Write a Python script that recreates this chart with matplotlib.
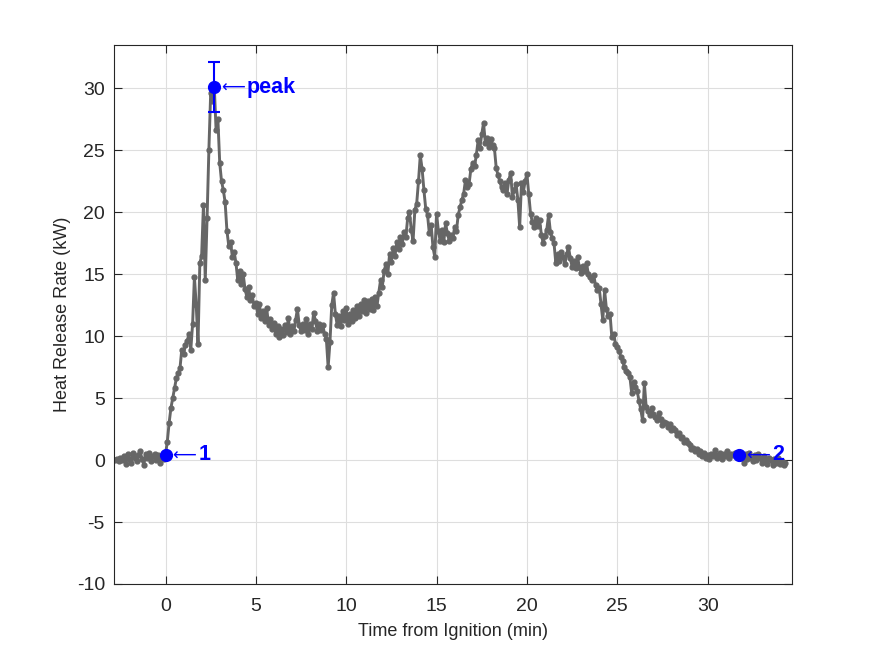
import numpy as np
import matplotlib
matplotlib.use("Agg")
import matplotlib.pyplot as plt

# heat release rate (kW), sampled every 0.1 min, split by burn phase
dt = 0.1

t_pre = -2.8
hrr_pre = [0.0, 0.1, -0.1, 0.2, 0.0, 0.3, -0.3, 0.5, 0.1, -0.2,
           0.6, 0.2, -0.1, 0.4, 0.7, 0.1, -0.4, 0.5, 0.2, 0.6,
           -0.1, 0.3, 0.5, 0.0, 0.4, -0.2, 0.3, 0.1]

t_growth = 0.0
hrr_growth = [0.45, 1.5, 3.0, 4.2, 5.0, 5.8, 6.6, 7.0, 7.4, 8.9,
              8.6, 9.3, 9.6, 10.2, 8.9, 11.0, 14.8, 12.5, 9.4, 15.9,
              16.5, 20.6, 14.5, 19.5, 25.0, 29.6, 29.0, 30.1]

t_decay = 2.8
hrr_decay = [26.6, 27.5, 24.0, 22.5, 21.8, 20.8, 18.5, 17.3, 17.6, 16.4,
             16.8, 15.9, 14.5, 15.3, 14.2, 15.0, 13.8, 13.2, 14.0, 12.9,
             13.3, 12.4, 12.7, 11.8, 12.6, 11.5, 12.0, 11.2, 12.3, 10.9,
             11.4, 10.6, 11.1, 10.2, 10.8, 9.9, 10.6, 10.1, 10.9, 10.3,
             11.5, 10.2, 10.8, 10.4, 11.3, 12.2, 10.9, 10.4, 11.0, 10.5,
             11.4, 10.2, 11.0, 10.6, 11.9, 11.2, 10.4, 11.0, 10.5, 10.9,
             10.2, 9.8, 7.5, 9.5, 12.5, 13.5, 11.8, 10.9, 11.6, 10.8,
             12.0, 11.3]

t_second = 10.0
hrr_second = [12.3, 11.0, 11.8, 11.2, 12.1, 11.5, 12.4, 11.6, 12.6, 12.0,
              12.9, 11.9, 12.8, 12.2, 13.0, 12.1, 13.2, 12.4, 13.5, 14.5,
              14.0, 15.3, 15.8, 15.0, 16.6, 16.0, 17.1, 16.5, 17.6, 17.0,
              18.0, 17.4, 18.4, 18.0, 19.5, 20.0, 18.6, 17.7, 20.2, 20.7,
              22.5, 24.6, 23.5, 21.8, 20.3, 19.8, 18.3, 19.0, 17.2, 16.4,
              19.9, 18.5, 17.7, 18.6, 17.6, 19.1, 18.3, 17.7, 18.2, 17.9,
              18.8, 18.5, 19.8, 20.4, 21.0, 21.5, 22.6, 22.0, 22.3, 23.5,
              24.0, 23.7, 24.6, 25.8, 25.2, 26.3, 27.2, 25.6, 26.0, 25.3,
              25.9, 25.4, 25.2, 23.6, 23.0, 22.5, 22.0, 21.8, 22.4, 21.5,
              22.6, 23.2, 21.2, 21.8, 22.3, 21.0, 18.8, 22.4, 21.6, 22.5]

t_burnout = 20.0
hrr_burnout = [23.1, 21.5, 19.9, 19.2, 18.8, 19.5, 18.9, 19.4, 18.2, 17.5,
               18.1, 18.6, 19.8, 18.4, 17.9, 17.5, 15.9, 16.6, 16.1, 16.8,
               16.4, 15.8, 16.6, 17.2, 16.3, 15.6, 16.1, 15.5, 16.4, 15.6,
               15.1, 15.7, 15.3, 15.9, 15.0, 14.8, 14.5, 14.9, 14.1, 13.7,
               13.9, 12.6, 11.3, 13.7, 12.2, 11.6, 11.8, 9.9, 10.2, 9.4,
               9.1, 8.8, 8.3, 8.0, 7.5, 7.2, 7.0, 6.7, 5.4, 6.3,
               5.9, 5.6, 4.8, 4.1, 3.2, 6.2, 4.3, 4.0, 3.6, 4.2,
               3.7, 3.5, 3.2, 3.8, 3.3, 2.8, 3.1, 3.0, 2.7, 2.9,
               2.4, 2.6, 2.4, 2.0, 2.2, 1.8, 1.9, 1.5, 1.6, 1.4,
               1.2, 0.9, 1.0, 0.7, 0.9, 0.5, 0.7, 0.3, 0.6, 0.2,
               0.4, 0.1, 0.5, 0.3, 0.8, 0.2, 0.4, 0.6, 0.1, 0.5,
               0.3, 0.7, 0.2, 0.5, 0.4, 0.6, 0.3, 0.45, 0.4, 0.2,
               -0.2, 0.5, 0.1, 0.6, 0.2, -0.1, 0.4, 0.0, 0.5, 0.2,
               -0.2, 0.3, 0.1, -0.3, 0.2, 0.0, -0.4, 0.1, -0.2, 0.2,
               -0.3, -0.1, -0.4, -0.2]

# marked points: ignition, peak (with uncertainty), end
mark_labels = ["1", "peak", "2"]
mark_t = [0.0, 2.7, 31.75]
mark_hrr = [0.45, 30.1, 0.45]
peak_err = 2.0

segments = [(t_pre, hrr_pre), (t_growth, hrr_growth), (t_decay, hrr_decay),
            (t_second, hrr_second), (t_burnout, hrr_burnout)]
time = np.concatenate([t0 + dt * np.arange(len(v)) for t0, v in segments])
hrr = np.concatenate([np.array(v, dtype=float) for _, v in segments])

plt.rcParams['font.family'] = ['Liberation Sans', 'DejaVu Sans']
plt.rcParams['axes.unicode_minus'] = False
fig = plt.figure(figsize=(8.75, 6.56), dpi=100)
ax = fig.add_axes([114 / 875, 72 / 656, 678 / 875, 539 / 656])

ax.plot(time, hrr, '-', color='#666666', lw=2.1, marker='.', ms=7, zorder=2)

blue = '#0000FF'
ax.errorbar(mark_t[1], mark_hrr[1], yerr=peak_err, color=blue, lw=1.5,
            capsize=4.5, capthick=1.5, zorder=3)
ax.plot(mark_t, mark_hrr, 'o', color=blue, ms=8.5, zorder=4)
for lab, x, y in zip(mark_labels, mark_t, mark_hrr):
    ax.annotate('\u27f5', (x, y), xytext=(5.0, -0.5), textcoords='offset points',
                color=blue, fontsize=12, va='center', ha='left',
                family=['DejaVu Sans'])
    ax.annotate(lab, (x, y), xytext=(23.5, 0), textcoords='offset points',
                color=blue, fontsize=15.5, fontweight='bold', va='center', ha='left')

ax.set_xlim(-2.85, 34.67)
ax.set_ylim(-10, 33.5)
ax.set_xticks(np.arange(0, 31, 5))
ax.set_yticks(np.arange(-10, 31, 5))
ax.grid(True, color='#dedede', lw=0.8)
ax.set_axisbelow(True)
ax.tick_params(direction='in', length=6, width=0.8, top=True, right=True,
               labelsize=14, colors='#262626')
ax.tick_params(axis='y', pad=6.5)
ax.tick_params(axis='x', pad=10)
for sp in ax.spines.values():
    sp.set_color('#262626')
    sp.set_linewidth(0.8)
ax.set_xlabel('Time from Ignition (min)', fontsize=13, color='#262626', labelpad=6)
ax.set_ylabel('Heat Release Rate (kW)', fontsize=13, color='#262626', labelpad=4)

fig.savefig('out.png', dpi=100)
